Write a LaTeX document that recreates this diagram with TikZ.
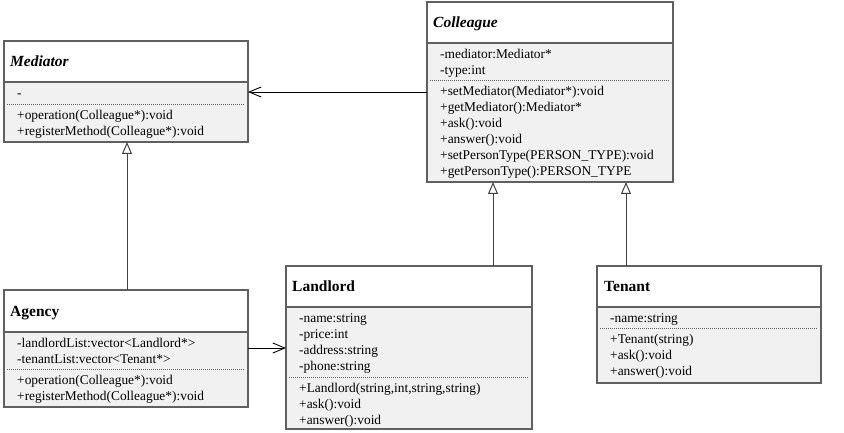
\documentclass[tikz,border=0pt]{standalone}
\usepackage{fontspec}
\setmainfont{Liberation Serif}
\usetikzlibrary{arrows.meta,calc}
\definecolor{edge}{RGB}{96,96,96}
\definecolor{bodyfill}{RGB}{241,241,241}
\tikzset{
  classbox/.style={draw=edge, line width=1.5pt, fill=bodyfill, inner sep=0pt, outer sep=0pt, anchor=north west},
  headfill/.style={draw=edge, line width=1.5pt, fill=white},
  sepline/.style={draw=edge, line width=0.8pt, dash pattern=on 1pt off 1pt},
  classname/.style={anchor=base west, inner sep=0pt, font=\fontsize{15.5}{18}\selectfont\bfseries},
  absname/.style={anchor=base west, inner sep=0pt, font=\fontsize{15.5}{18}\selectfont\bfseries\itshape},
  member/.style={anchor=base west, inner sep=0pt, font=\fontsize{13.4}{16}\selectfont},
  assoc/.style={draw=black, line width=0.9pt, -{Straight Barb[length=12pt,width=10pt,line width=0.9pt]}},
  inherit/.style={draw=black!75, line width=1pt, -{Triangle[open,length=12pt,width=10pt,fill=white,line width=1pt]}},
}
% one text line per member, 16pt apart, starting at a given baseline
\newcommand\memberlines[4]{%
  \foreach \txt [count=\i] in {#4}
    \node[member] (#1\i) at (#2, #3+16*\i-16) {\txt};}
% class frame: header band, member area, dotted split between fields and methods
\newcommand\classframe[7]{% name, x, y, width, height, header bottom, split y
  \node[classbox, minimum width=#4pt, minimum height=#5pt] (#1) at (#2,#3) {};
  \draw[headfill] (#1.north west) rectangle (#1.east |- 0,#6);
  \draw[sepline] ($(#1.west |- 0,#7)+(3,0)$) -- ($(#1.east |- 0,#7)+(-3,0)$);}
\begin{document}
\begin{tikzpicture}[x=1pt,y=-1pt]
\useasboundingbox (0,0) rectangle (844,433);

% Mediator
\classframe{med}{4}{41}{244}{101}{82}{104}
\node[absname] (medname) at (10,67) {Mediator};
\memberlines{medattr}{17}{98}{-}
\memberlines{medop}{17}{119.5}{+operation(Colleague*):void,+registerMethod(Colleague*):void}

% Colleague
\classframe{col}{427}{2}{246}{180}{43}{80}
\node[absname] (colname) at (433,27.5) {Colleague};
\memberlines{colattr}{440}{58.5}{-mediator:Mediator*,-type:int}
\memberlines{colop}{440}{95.5}{+setMediator(Mediator*):void,+getMediator():Mediator*,+ask():void,+answer():void,+setPersonType(PERSON\_TYPE):void,+getPersonType():PERSON\_TYPE}

% Agency
\classframe{ag}{4}{290}{244}{117}{332}{369}
\node[classname] (agname) at (10,316) {Agency};
\memberlines{agattr}{17}{347.5}{-landlordList:vector<Landlord*>,-tenantList:vector<Tenant*>}
\memberlines{agop}{17}{384.5}{+operation(Colleague*):void,+registerMethod(Colleague*):void}

% Landlord
\classframe{land}{286}{266}{246}{163}{307}{377}
\node[classname] (landname) at (292,291.5) {Landlord};
\memberlines{landattr}{299}{322.5}{-name:string,-price:int,-address:string,-phone:string}
\memberlines{landop}{299}{392.5}{{+Landlord(string,int,string,string)},+ask():void,+answer():void}

% Tenant
\classframe{ten}{597}{266}{224}{117}{307}{328}
\node[classname] (tenname) at (604,291.5) {Tenant};
\memberlines{tenattr}{610}{322.5}{-name:string}
\memberlines{tenop}{610}{343.5}{+Tenant(string),+ask():void,+answer():void}

% associations
\draw[assoc] (col.west |- 0,92) -- (med.east |- 0,92);
\draw[assoc] (ag.east |- 0,348) -- (land.west |- 0,348);

% generalisations
\draw[inherit] (ag.north -| 127,0) -- (med.south -| 127,0);
\draw[inherit] (land.north -| 493,0) -- (col.south -| 493,0);
\draw[inherit] (ten.north -| 626,0) -- (col.south -| 626,0);
\end{tikzpicture}
\end{document}
